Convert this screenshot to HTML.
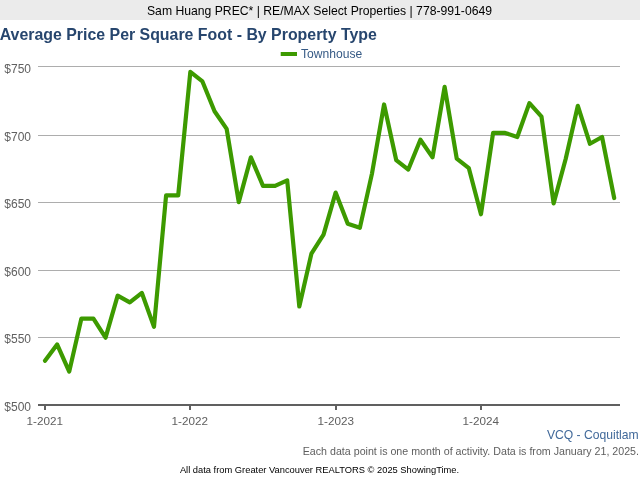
<!DOCTYPE html>
<html><head><meta charset="utf-8"><title>Chart</title>
<style>
html,body{margin:0;padding:0;background:#fff;}
body{width:640px;height:480px;overflow:hidden;font-family:"Liberation Sans",Arial,sans-serif;}
svg{display:block}
text{font-family:"Liberation Sans",Arial,sans-serif;}
.ax{font-size:12px;fill:#606060;}
.xl{font-size:11.7px;}
</style></head><body>
<svg width="640" height="480" viewBox="0 0 640 480">
<rect x="0" y="0" width="640" height="20" fill="#ebebeb"/>
<text x="319.5" y="15.3" text-anchor="middle" font-size="12.2" fill="#000">Sam Huang PREC* | RE/MAX Select Properties | 778-991-0649</text>
<text x="-0.3" y="40" font-size="15.9" font-weight="bold" fill="#27466e">Average Price Per Square Foot - By Property Type</text>
<line x1="280.7" x2="297" y1="54" y2="54" stroke="#3d9a00" stroke-width="4"/>
<text x="301" y="58" font-size="12.1" fill="#365a85">Townhouse</text>
<line x1="38" x2="620" y1="337.5" y2="337.5" stroke="#adadad" stroke-width="1"/><line x1="38" x2="620" y1="270.5" y2="270.5" stroke="#adadad" stroke-width="1"/><line x1="38" x2="620" y1="202.5" y2="202.5" stroke="#adadad" stroke-width="1"/><line x1="38" x2="620" y1="135.5" y2="135.5" stroke="#adadad" stroke-width="1"/><line x1="38" x2="620" y1="66.5" y2="66.5" stroke="#adadad" stroke-width="1"/>
<text x="31" y="410.6" text-anchor="end" class="ax">$500</text><text x="31" y="343" text-anchor="end" class="ax">$550</text><text x="31" y="276" text-anchor="end" class="ax">$600</text><text x="31" y="208" text-anchor="end" class="ax">$650</text><text x="31" y="141" text-anchor="end" class="ax">$700</text><text x="31" y="73" text-anchor="end" class="ax">$750</text>
<line x1="38" x2="620" y1="405" y2="405" stroke="#606060" stroke-width="2"/>
<line x1="45" x2="45" y1="405" y2="410" stroke="#606060" stroke-width="2"/><text x="44.8" y="424.7" text-anchor="middle" class="ax xl">1-2021</text><line x1="190" x2="190" y1="405" y2="410" stroke="#606060" stroke-width="2"/><text x="189.8" y="424.7" text-anchor="middle" class="ax xl">1-2022</text><line x1="336" x2="336" y1="405" y2="410" stroke="#606060" stroke-width="2"/><text x="335.8" y="424.7" text-anchor="middle" class="ax xl">1-2023</text><line x1="481" x2="481" y1="405" y2="410" stroke="#606060" stroke-width="2"/><text x="480.8" y="424.7" text-anchor="middle" class="ax xl">1-2024</text>
<polyline points="45.00,360.75 57.11,344.48 69.22,371.60 81.33,318.72 93.44,318.72 105.55,337.70 117.66,295.66 129.77,302.44 141.88,292.95 153.99,326.85 166.10,195.32 178.21,195.32 190.32,71.92 202.43,81.42 214.54,111.25 226.65,128.88 238.76,202.10 250.87,157.35 262.98,185.83 275.09,185.83 287.20,180.40 299.31,306.51 311.42,253.63 323.53,234.64 335.64,192.61 347.75,223.80 359.86,227.86 371.97,173.62 384.08,104.47 396.19,160.06 408.30,169.56 420.41,139.72 432.52,157.35 444.63,86.84 456.74,158.71 468.85,168.20 480.96,214.30 493.07,132.94 505.18,132.94 517.29,137.01 529.40,103.11 541.51,116.67 553.62,203.46 565.73,158.71 577.84,105.82 589.95,143.79 602.06,137.01 614.17,198.03" fill="none" stroke="#3d9a00" stroke-width="4.2" stroke-linejoin="round" stroke-linecap="round"/>
<text x="638.7" y="438.6" text-anchor="end" font-size="12.15" fill="#41699a">VCQ - Coquitlam</text>
<text x="639" y="455" text-anchor="end" font-size="10.67" fill="#5e5e5e">Each data point is one month of activity. Data is from January 21, 2025.</text>
<text x="319.5" y="472.6" text-anchor="middle" font-size="9.33" fill="#000">All data from Greater Vancouver REALTORS © 2025 ShowingTime.</text>
</svg>
</body></html>
